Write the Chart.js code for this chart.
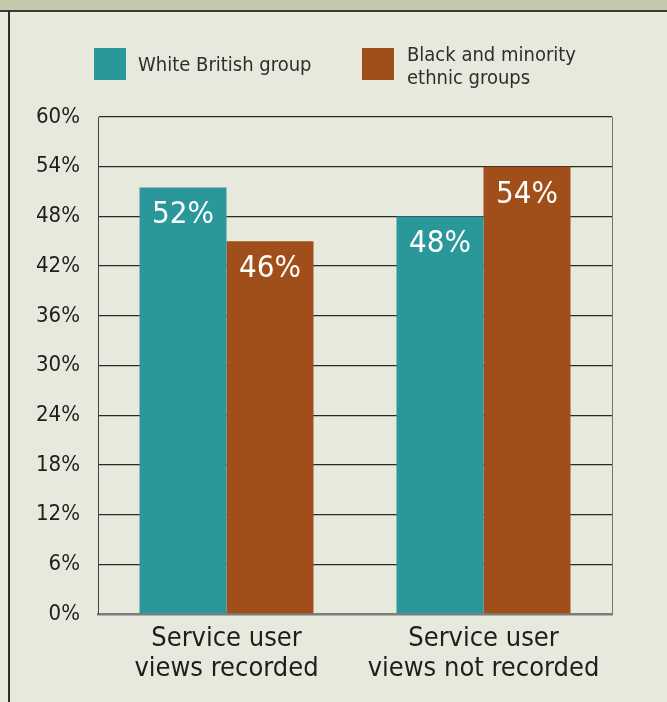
<!DOCTYPE html>
<html>
<head>
<meta charset="utf-8">
<script src="https://cdn.jsdelivr.net/npm/chart.js@4.4.0/dist/chart.umd.min.js"></script>
<style>
    html, body { margin: 0; padding: 0; }
    body { width: 667px; height: 702px; background: #e8e9dd; position: relative; overflow: hidden; }
    .band { position: absolute; left: 0; top: 0; width: 667px; height: 10px; background: #c4c9ad; border-bottom: 2px solid #3a3a36; }
    .edge { position: absolute; left: 8px; top: 10px; width: 2px; height: 692px; background: #2e2e2a; }
    canvas { position: absolute; left: 0; top: 0; }
</style>
</head>
<body>
<div class="band"></div>
<div class="edge"></div>
<canvas id="chart" width="667" height="702"></canvas>
<script>
(function () {
    "use strict";

    // Data
    const categories = [
        ["Service user", "views recorded"],
        ["Service user", "views not recorded"],
    ];
    const whiteBritish = [51.5, 48];
    const blackMinority = [45, 54];
    const whiteBritishLabels = ["52%", "48%"];
    const blackMinorityLabels = ["46%", "54%"];
    const seriesNames = [["White British group"], ["Black and minority", "ethnic groups"]];
    const yTickStep = 6;
    const yMax = 60;

    const FONT = "'DejaVu Sans Condensed', 'DejaVu Sans', sans-serif";
    const TEAL = "#2a979a";
    const BROWN = "#a04f1b";

    // Value labels inside the top of the bars
    const valueLabels = {
        id: "valueLabels",
        afterDatasetsDraw(chart) {
            const ctx = chart.ctx;
            ctx.save();
            ctx.fillStyle = "#ffffff";
            ctx.font = "31px " + FONT;
            ctx.textAlign = "center";
            ctx.textBaseline = "middle";
            chart.data.datasets.forEach((ds, di) => {
                chart.getDatasetMeta(di).data.forEach((bar, i) => {
                    ctx.fillText(ds.valueLabels[i], bar.x, bar.y + 28);
                });
            });
            ctx.restore();
        },
    };

    // Legend drawn above the plot (second entry wraps to two lines)
    const boxLegend = {
        id: "boxLegend",
        afterDraw(chart) {
            const ctx = chart.ctx;
            const slots = [94, 362];
            ctx.save();
            ctx.font = "20px " + FONT;
            ctx.textBaseline = "middle";
            ctx.textAlign = "left";
            chart.data.datasets.forEach((ds, di) => {
                const x = slots[di];
                ctx.fillStyle = ds.backgroundColor;
                ctx.fillRect(x, 48, 32, 32);
                ctx.fillStyle = "#2e2e2e";
                const lines = ds.legendLines;
                if (lines.length === 1) {
                    ctx.fillText(lines[0], x + 44, 66);
                } else {
                    lines.forEach((line, li) => {
                        ctx.fillText(line, x + 45, 56 + li * 23);
                    });
                }
            });
            ctx.restore();
        },
    };

    new Chart(document.getElementById("chart"), {
        type: "bar",
        data: {
            labels: categories,
            datasets: [
                {
                    label: seriesNames[0].join(" "),
                    legendLines: seriesNames[0],
                    data: whiteBritish,
                    valueLabels: whiteBritishLabels,
                    backgroundColor: TEAL,
                    borderWidth: 0,
                },
                {
                    label: seriesNames[1].join(" "),
                    legendLines: seriesNames[1],
                    data: blackMinority,
                    valueLabels: blackMinorityLabels,
                    backgroundColor: BROWN,
                    borderWidth: 0,
                },
            ],
        },
        options: {
            responsive: false,
            animation: false,
            categoryPercentage: 0.677,
            barPercentage: 1,
            layout: {
                padding: { left: 0, right: 55, top: 117, bottom: 0 },
            },
            plugins: {
                legend: { display: false },
                tooltip: { enabled: false },
            },
            scales: {
                x: {
                    afterFit(scale) {
                        scale.height = 88;
                    },
                    grid: {
                        drawTicks: false,
                        color: (c) => (c.index === 1 ? "rgba(0,0,0,0)" : "#777777"),
                        lineWidth: 1,
                    },
                    border: { display: true, color: "#7d7d7d", width: 2.5 },
                    ticks: {
                        color: "#1e1e1e",
                        padding: 10,
                        font: { family: FONT, size: 27, lineHeight: 1.11 },
                    },
                },
                y: {
                    min: 0,
                    max: yMax,
                    afterFit(scale) {
                        scale.width = 98;
                    },
                    grid: {
                        drawTicks: false,
                        color: (c) => (c.tick && c.tick.value === 0 ? "rgba(0,0,0,0)" : "#2a2a2a"),
                        lineWidth: 1.3,
                    },
                    border: { display: true, color: "#444444", width: 1 },
                    ticks: {
                        stepSize: yTickStep,
                        color: "#1e1e1e",
                        padding: 18,
                        font: { family: FONT, size: 22 },
                        callback: (v) => v + "%",
                    },
                },
            },
        },
        plugins: [valueLabels, boxLegend],
    });
})();
</script>
</body>
</html>
